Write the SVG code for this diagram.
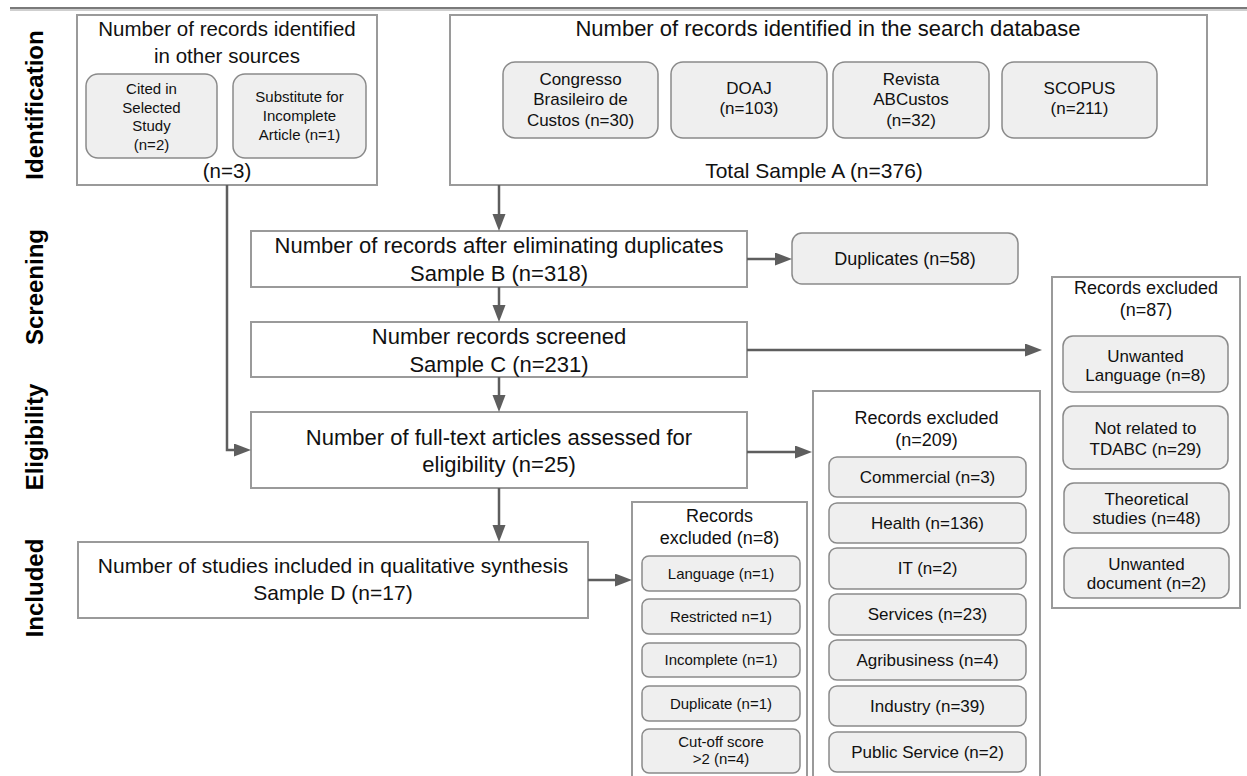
<svg xmlns="http://www.w3.org/2000/svg" width="1247" height="776" viewBox="0 0 1247 776">
<style>
.box{fill:#fff;stroke:#9a9a9a;stroke-width:2}
.sub{fill:#efefef;stroke:#8a8a8a;stroke-width:1.5}
text{font-family:"Liberation Sans",Arial,sans-serif;fill:#111;text-anchor:middle}
.stage{font-weight:bold;font-size:24px;fill:#000}
.m{font-size:22px}
.s17{font-size:17px}
.s15{font-size:15px}
.s18{font-size:18px}
.conn{stroke:#5e5e5e;stroke-width:2.5;fill:none}
</style>
<defs>
<marker id="ah" markerUnits="userSpaceOnUse" markerWidth="18" markerHeight="14" refX="9" refY="6.5" orient="auto">
<path d="M0,0 L17,6.5 L0,13 z" fill="#5e5e5e"/>
</marker>
</defs>
<rect x="10" y="7" width="1237" height="2" fill="#7a7a7a"/>
<rect x="10" y="9" width="1237" height="2" fill="#cfcfcf"/>

<g id="stages">
<text class="stage" transform="translate(43,105) rotate(-90)">Identification</text>
<text class="stage" transform="translate(43,287) rotate(-90)">Screening</text>
<text class="stage" transform="translate(43,437) rotate(-90)">Eligibility</text>
<text class="stage" transform="translate(43,588) rotate(-90)">Included</text>
</g>

<g id="other-sources">
<rect class="box" x="77" y="15" width="300" height="170"/>
<text x="227" y="36" style="font-size:20.5px">Number of records identified</text>
<text x="227" y="63" style="font-size:20.5px">in other sources</text>
<rect class="sub" x="86" y="74" width="131" height="84" rx="12"/>
<text class="s15" x="151.5" y="94">Cited in</text>
<text class="s15" x="151.5" y="113">Selected</text>
<text class="s15" x="151.5" y="131">Study</text>
<text class="s15" x="151.5" y="150">(n=2)</text>
<rect class="sub" x="233" y="74" width="133" height="84" rx="12"/>
<text class="s15" x="299.5" y="102">Substitute for</text>
<text class="s15" x="299.5" y="121">Incomplete</text>
<text class="s15" x="299.5" y="140">Article (n=1)</text>
<text x="227" y="178" style="font-size:20.5px">(n=3)</text>
</g>

<g id="search-database">
<rect class="box" x="450" y="15" width="757" height="170"/>
<text x="828" y="36" class="m">Number of records identified in the search database</text>
<rect class="sub" x="503" y="62" width="155" height="76" rx="12"/>
<text class="s17" x="580.5" y="85">Congresso</text>
<text class="s17" x="580.5" y="105">Brasileiro de</text>
<text class="s17" x="580.5" y="126">Custos (n=30)</text>
<rect class="sub" x="671" y="62" width="156" height="76" rx="12"/>
<text class="s17" x="749" y="94">DOAJ</text>
<text class="s17" x="749" y="114">(n=103)</text>
<rect class="sub" x="833" y="62" width="156" height="76" rx="12"/>
<text class="s17" x="911" y="85">Revista</text>
<text class="s17" x="911" y="105">ABCustos</text>
<text class="s17" x="911" y="126">(n=32)</text>
<rect class="sub" x="1002" y="62" width="155" height="76" rx="12"/>
<text class="s17" x="1079.5" y="94">SCOPUS</text>
<text class="s17" x="1079.5" y="114">(n=211)</text>
<text x="814" y="178" style="font-size:21px">Total Sample A (n=376)</text>
</g>

<g id="sample-b">
<rect class="box" x="251" y="231" width="496" height="56"/>
<text class="m" x="499" y="253">Number of records after eliminating duplicates</text>
<text class="m" x="499" y="281">Sample B (n=318)</text>
</g>

<g id="duplicates">
<rect class="sub" x="792" y="233" width="226" height="51" rx="10"/>
<text class="s18" x="905" y="265">Duplicates (n=58)</text>
</g>

<g id="sample-c">
<rect class="box" x="251" y="322" width="496" height="55"/>
<text class="m" x="499" y="344">Number records screened</text>
<text class="m" x="499" y="372">Sample C (n=231)</text>
</g>

<g id="excluded-87">
<rect class="box" x="1052" y="277" width="188" height="331"/>
<text class="s18" x="1146" y="294">Records excluded</text>
<text class="s18" x="1146" y="316">(n=87)</text>
<rect class="sub" x="1063" y="336" width="165" height="56" rx="10"/>
<text class="s17" x="1145.5" y="362">Unwanted</text>
<text class="s17" x="1145.5" y="381">Language (n=8)</text>
<rect class="sub" x="1063" y="406" width="165" height="63" rx="10"/>
<text class="s17" x="1145.5" y="434">Not related to</text>
<text class="s17" x="1145.5" y="455">TDABC (n=29)</text>
<rect class="sub" x="1064" y="483" width="165" height="50" rx="10"/>
<text class="s17" x="1146.5" y="505">Theoretical</text>
<text class="s17" x="1146.5" y="524">studies (n=48)</text>
<rect class="sub" x="1064" y="548" width="165" height="50" rx="10"/>
<text class="s17" x="1146.5" y="570">Unwanted</text>
<text class="s17" x="1146.5" y="589">document (n=2)</text>
</g>

<g id="full-text">
<rect class="box" x="251" y="412" width="496" height="76"/>
<text class="m" x="499" y="445">Number of full-text articles assessed for</text>
<text class="m" x="499" y="472">eligibility (n=25)</text>
</g>

<g id="excluded-209">
<rect class="box" x="813" y="391" width="227" height="392"/>
<text class="s18" x="926.5" y="424">Records excluded</text>
<text class="s18" x="926.5" y="446">(n=209)</text>
<rect class="sub" x="829" y="457" width="197" height="40" rx="8"/>
<text class="s17" x="927.5" y="483">Commercial (n=3)</text>
<rect class="sub" x="829" y="503" width="197" height="40" rx="8"/>
<text class="s17" x="927.5" y="529">Health (n=136)</text>
<rect class="sub" x="829" y="548" width="197" height="41" rx="8"/>
<text class="s17" x="927.5" y="574">IT (n=2)</text>
<rect class="sub" x="829" y="594" width="197" height="41" rx="8"/>
<text class="s17" x="927.5" y="620">Services (n=23)</text>
<rect class="sub" x="829" y="640" width="197" height="40" rx="8"/>
<text class="s17" x="927.5" y="666">Agribusiness (n=4)</text>
<rect class="sub" x="829" y="686" width="197" height="40" rx="8"/>
<text class="s17" x="927.5" y="712">Industry (n=39)</text>
<rect class="sub" x="829" y="732" width="197" height="40" rx="8"/>
<text class="s17" x="927.5" y="758">Public Service (n=2)</text>
</g>

<g id="sample-d">
<rect class="box" x="78" y="542" width="510" height="76"/>
<text x="333" y="573" style="font-size:21px">Number of studies included in qualitative synthesis</text>
<text x="333" y="600" style="font-size:21px">Sample D (n=17)</text>
</g>

<g id="excluded-8">
<rect class="box" x="632" y="502" width="175" height="281"/>
<text class="s18" x="719.5" y="522">Records</text>
<text class="s18" x="719.5" y="544">excluded (n=8)</text>
<rect class="sub" x="642" y="556" width="158" height="35" rx="7"/>
<text class="s15" x="721" y="579">Language (n=1)</text>
<rect class="sub" x="642" y="599" width="158" height="35" rx="7"/>
<text class="s15" x="721" y="622">Restricted n=1)</text>
<rect class="sub" x="642" y="643" width="158" height="34" rx="7"/>
<text class="s15" x="721" y="665">Incomplete (n=1)</text>
<rect class="sub" x="642" y="686" width="158" height="35" rx="7"/>
<text class="s15" x="721" y="709">Duplicate (n=1)</text>
<rect class="sub" x="642" y="729" width="158" height="44" rx="7"/>
<text class="s15" x="721" y="747">Cut-off score</text>
<text class="s15" x="721" y="764">&gt;2 (n=4)</text>
</g>

<g id="connectors">
<path class="conn" d="M499,185 V223" marker-end="url(#ah)"/>
<path class="conn" d="M227,185 V450 H243" marker-end="url(#ah)"/>
<path class="conn" d="M747,259 H784" marker-end="url(#ah)"/>
<path class="conn" d="M499,287 V314" marker-end="url(#ah)"/>
<path class="conn" d="M747,350 H1034" marker-end="url(#ah)"/>
<path class="conn" d="M499,377 V404" marker-end="url(#ah)"/>
<path class="conn" d="M747,452 H804" marker-end="url(#ah)"/>
<path class="conn" d="M499,488 V534" marker-end="url(#ah)"/>
<path class="conn" d="M588,580 H624" marker-end="url(#ah)"/>
</g>
</svg>
